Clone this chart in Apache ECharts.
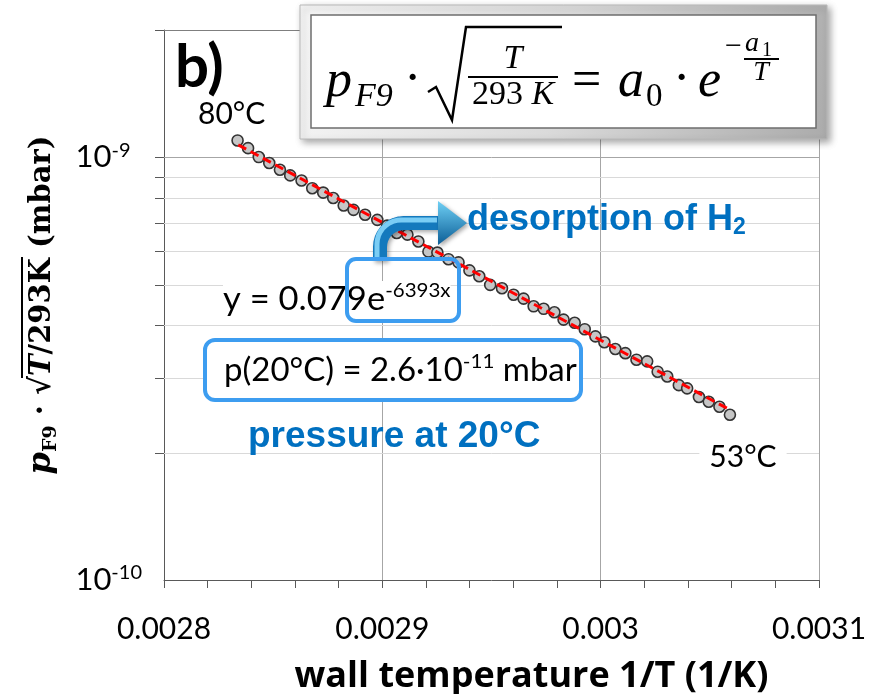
<!DOCTYPE html>
<html><head><meta charset="utf-8">
<script src="https://cdn.jsdelivr.net/npm/echarts@6/dist/echarts.min.js"></script>
<style>html,body{margin:0;padding:0;background:#fff}#c{width:875px;height:694px}</style>
</head><body><div id="c"></div>
<script>
// ---- data ----
const xTicks = [0.0028, 0.0029, 0.003, 0.0031];
const yMin = 1e-10, yMax = 2e-9;
const invT = [0.0028337,0.0028385,0.0028434,0.0028482,0.0028531,0.0028578,0.0028630,0.0028679,0.0028729,0.0028775,0.0028823,0.0028868,0.0028921,0.0028977,0.0029022,0.0029066,0.0029115,0.0029165,0.0029211,0.0029252,0.0029303,0.0029349,0.0029399,0.0029444,0.0029494,0.0029548,0.0029601,0.0029647,0.0029693,0.0029739,0.0029788,0.0029830,0.0029881,0.0029927,0.0029976,0.0030017,0.0030067,0.0030113,0.0030164,0.0030213,0.0030261,0.0030305,0.0030358,0.0030396,0.0030450,0.0030495,0.0030544,0.0030592];
const pNorm = [1.096e-9,1.051e-9,1.001e-9,9.69e-10,9.34e-10,9.06e-10,8.81e-10,8.45e-10,8.25e-10,8.01e-10,7.69e-10,7.51e-10,7.31e-10,7.11e-10,6.89e-10,6.62e-10,6.56e-10,6.32e-10,5.98e-10,5.95e-10,5.74e-10,5.64e-10,5.40e-10,5.23e-10,4.99e-10,4.90e-10,4.73e-10,4.63e-10,4.44e-10,4.38e-10,4.30e-10,4.13e-10,4.06e-10,3.92e-10,3.77e-10,3.65e-10,3.52e-10,3.44e-10,3.32e-10,3.29e-10,3.11e-10,3.03e-10,2.89e-10,2.84e-10,2.71e-10,2.64e-10,2.57e-10,2.46e-10];
const trendX = [0.002834, 0.003059];
const trendY = [1.07e-9, 2.53e-10];
const yGridVals = [2e-10,3e-10,4e-10,5e-10,6e-10,7e-10,8e-10,9e-10,1e-9,2e-9];

// ---- helpers ----
const BLUE = '#0070c0', BOX = '#3d9df0';
const mctx = document.createElement('canvas').getContext('2d');
function tw(font, s){ mctx.font = font; return mctx.measureText(s).width; }
function txt(s, x, y, o, sx){
  o = o || {};
  const st = Object.assign({text:s, x:0, y:0, fill:'#000', align:o.align||'left', textAlign:o.align||'left',
    verticalAlign:'middle', textVerticalAlign:'middle'}, o);
  return {type:'text', z:20, x:x, y:y, scaleX:sx||1, style:st};
}

// y-axis title (rotated) built from tokens
const tf = '"DejaVu Serif"';
const tTokens = [
  {t:'p', font:'italic bold 32px '+tf, dy:0},
  {t:'F9', font:'bold 19px '+tf, dy:9},
  {t:' · √', font:'bold 29px '+tf, dy:0},
  {t:'T', font:'italic bold 29px '+tf, dy:0, over:true},
  {t:'/293K', font:'bold 29px '+tf, dy:0, over:true},
  {t:' (mbar)', font:'bold 29px '+tf, dy:0}
];
let tot = 0; tTokens.forEach(k => { k.w = tw(k.font, k.t); tot += k.w; });
let cx = -tot/2; const titleKids = []; let ovS = null, ovE = null;
tTokens.forEach(k => {
  titleKids.push({type:'text', style:{text:k.t, x:cx, y:k.dy, font:k.font, fill:'#000', align:'left', textAlign:'left', verticalAlign:'middle', textVerticalAlign:'middle'}});
  if (k.over){ if (ovS===null) ovS = cx; ovE = cx + k.w; }
  cx += k.w;
});
titleKids.push({type:'line', shape:{x1:ovS-2, y1:-20, x2:ovE+1, y2:-20}, style:{stroke:'#000', lineWidth:2}});

// arrow points (decoration)
const arrowPts = [[380,261],[380,247]];
for (let a = 180; a <= 270; a += 10){ const r = a*Math.PI/180; arrowPts.push([404+24*Math.cos(r), 247+24*Math.sin(r)]); }
arrowPts.push([440,223]);

const supRich = (n, s) => ({
  n:{fontFamily:'Lato', fontSize:n, lineHeight:n+6, fill:'#000', color:'#000'},
  s:{fontFamily:'Lato', fontSize:s, lineHeight:n+6, verticalAlign:'top', fill:'#000', color:'#000'}
});

const chart = echarts.init(document.getElementById('c'));
chart.setOption({
  animation:false,
  backgroundColor:'#fff',
  grid:{left:164, right:56, top:30, bottom:114, containLabel:false, outerBoundsMode:'none'},
  xAxis:{
    type:'value', min:xTicks[0], max:xTicks[3], interval:0.0001,
    axisLine:{show:true, lineStyle:{color:'#595959', width:1}},
    axisTick:{show:true, length:8, lineStyle:{color:'#595959'}},
    minorTick:{show:true, splitNumber:5, length:8, lineStyle:{color:'#595959'}},
    splitLine:{show:true, lineStyle:{color:'#a6a6a6', width:1}},
    axisLabel:{margin:34, fontFamily:'Lato', fontSize:30, color:'#000', formatter:v => String(+v.toFixed(4))},
    name:'wall temperature 1/T (1/K)', nameLocation:'middle', nameGap:79,
    nameTextStyle:{fontFamily:'Open Sans', fontWeight:'bold', fontSize:36, color:'#000', verticalAlign:'top', padding:[0,0,0,80]}
  },
  yAxis:{
    type:'log', logBase:10, min:yMin, max:yMax,
    axisLine:{show:true, lineStyle:{color:'#595959', width:1}},
    axisTick:{show:false}, splitLine:{show:false}, minorTick:{show:false},
    axisLabel:{margin:22, color:'#000',
      formatter:v => { const l = Math.log10(v), e = Math.round(l); if (Math.abs(l-e) > 1e-6) return ''; return '{b|10}{' + (String(e).length < 3 ? 'p' : 's') + '|' + e + '}'; },
      rich:{b:{fontFamily:'Lato', fontSize:31, lineHeight:34, color:'#000'},
            s:{fontFamily:'Lato', fontSize:20, lineHeight:34, verticalAlign:'top', color:'#000'},
            p:{fontFamily:'Lato', fontSize:20, lineHeight:34, verticalAlign:'top', color:'#000', padding:[0,11.5,0,0]}}}
  },
  series:[
    {type:'custom', z:1, silent:true, clip:false,
     data:yGridVals.map(v => [xTicks[0], v]), encode:{x:0, y:1},
     renderItem:(params, api) => {
       const v = api.value(1);
       const p0 = api.coord([xTicks[0], v]), p1 = api.coord([xTicks[3], v]);
       const l = Math.log10(v), major = Math.abs(l - Math.round(l)) < 1e-6, top = v === yMax;
       const y = Math.round(p0[1]) + 0.5;
       return {type:'group', children:[
         {type:'line', shape:{x1:p0[0]-9, y1:y, x2:p0[0], y2:y}, style:{stroke:'#595959', lineWidth:1}},
         {type:'line', shape:{x1:p0[0], y1:y, x2:p1[0], y2:y}, style:{stroke: top ? '#7f7f7f' : (major ? '#a6a6a6' : '#d9d9d9'), lineWidth:1}}
       ]};
     }},
    {type:'scatter', z:3, data:invT.map((x,i) => [x, pNorm[i]]), symbol:'circle', symbolSize:11,
     itemStyle:{color:'#c6c6c6', borderColor:'#333', borderWidth:1.6, opacity:1}},
    {type:'line', z:4, data:trendX.map((x,i) => [x, trendY[i]]), showSymbol:false, symbol:'none',
     lineStyle:{color:'#ff0000', width:3, type:[9,5]}}
  ],
  graphic:{elements:[
    // formula box
    {type:'rect', z:10, shape:{x:300, y:5, width:527, height:134},
     style:{fill:{type:'linear', x:0, y:0, x2:1, y2:1, colorStops:[{offset:0, color:'#f6f6f6'},{offset:0.5, color:'#dadada'},{offset:1, color:'#ababab'}]},
       stroke:'#b8b8b8', lineWidth:1, shadowBlur:7, shadowColor:'rgba(0,0,0,0.35)', shadowOffsetX:3, shadowOffsetY:3}},
    {type:'rect', z:11, shape:{x:311, y:15, width:505, height:113}, style:{fill:'#fff', stroke:'#6e6e6e', lineWidth:1.5}},
    txt('p', 326, 82, {font:'italic 52px "Liberation Serif"'}),
    txt('F9', 355, 97, {font:'italic 34px "Liberation Serif"'}),
    txt('·', 404, 80, {font:'52px "Liberation Serif"'}),
    {type:'polyline', z:20, shape:{points:[[428,92],[436,87],[452,120],[466,27],[562,27]]}, style:{stroke:'#000', lineWidth:2.5, fill:null}},
    txt('T', 513, 59, {font:'italic 34px "Liberation Serif"', align:'center'}),
    {type:'line', z:20, shape:{x1:468, y1:77, x2:558, y2:77}, style:{stroke:'#000', lineWidth:2}},
    txt('293 {i|K}', 513, 95, {font:'34px "Liberation Serif"', align:'center', rich:{i:{fontFamily:'Liberation Serif', fontStyle:'italic', fontSize:34}}}),
    txt('=', 572, 82, {font:'52px "Liberation Serif"'}),
    txt('a', 618, 82, {font:'italic 52px "Liberation Serif"'}),
    txt('0', 646, 97, {font:'33px "Liberation Serif"'}),
    txt('·', 673, 80, {font:'52px "Liberation Serif"'}),
    txt('e', 698, 82, {font:'italic 52px "Liberation Serif"'}),
    txt('−', 725, 47, {font:'30px "Liberation Serif"'}),
    txt('a', 745, 44, {font:'italic 28px "Liberation Serif"'}),
    txt('1', 762, 51, {font:'20px "Liberation Serif"'}),
    {type:'line', z:20, shape:{x1:744, y1:59, x2:779, y2:59}, style:{stroke:'#000', lineWidth:1.8}},
    txt('T', 761, 73, {font:'italic 28px "Liberation Serif"', align:'center'}),
    // panel label and temperature labels
    txt('b)', 175, 68, {font:'bold 60px Lato'}),
    txt('80°C', 198, 114, {font:'30px Lato'}),
    txt('53°C', 743, 457, {font:'30px Lato', align:'center', backgroundColor:'#fff', padding:[2,10]}),
    // desorption arrow
    {type:'polyline', z:15, shape:{points:arrowPts}, style:{stroke:'#1479bd', lineWidth:14, fill:null, lineJoin:'round', shadowBlur:4, shadowColor:'rgba(0,0,0,0.35)', shadowOffsetX:2, shadowOffsetY:2}},
    {type:'polyline', z:16, shape:{points:arrowPts.map(p => [p[0]-3, p[1]-3])}, style:{stroke:'rgba(140,220,255,0.85)', lineWidth:5, fill:null, lineJoin:'round'}},
    {type:'polygon', z:16, shape:{points:[[438,201],[467,223],[438,245]]},
     style:{fill:{type:'linear', x:0, y:0, x2:0, y2:1, colorStops:[{offset:0, color:'#6fd0f5'},{offset:1, color:'#0b5d96'}]}, shadowBlur:4, shadowColor:'rgba(0,0,0,0.35)', shadowOffsetX:2, shadowOffsetY:2}},
    txt('desorption of H{s|2}', 467, 220, {font:'bold 36px "Liberation Sans"', fill:BLUE, rich:{s:{fontFamily:'Liberation Sans', fontWeight:'bold', fontSize:23, fill:BLUE, color:BLUE, padding:[16,0,0,0]}}}),
    // fit equation
    txt('{n|y = 0.079e}{s|-6393x}', 223, 300, {rich:supRich(32, 19), backgroundColor:'#fff'}, 1.08),
    {type:'rect', z:22, shape:{x:347, y:259, width:112, height:62, r:9}, style:{fill:null, stroke:BOX, lineWidth:4}},
    {type:'rect', z:18, shape:{x:205, y:340, width:376, height:60, r:10}, style:{fill:'#fff', stroke:BOX, lineWidth:4}},
    txt('{n|p(20°C) = 2.6·10}{s|-11}{n| mbar}', 224, 371, {rich:supRich(32, 20)}, 1.03),
    txt('pressure at 20°C', 248, 437, {font:'bold 37px "Liberation Sans"', fill:BLUE}),
    // y-axis title
    {type:'group', z:20, x:42, y:305, rotation:Math.PI/2, children:titleKids}
  ]}
});
</script></body></html>
